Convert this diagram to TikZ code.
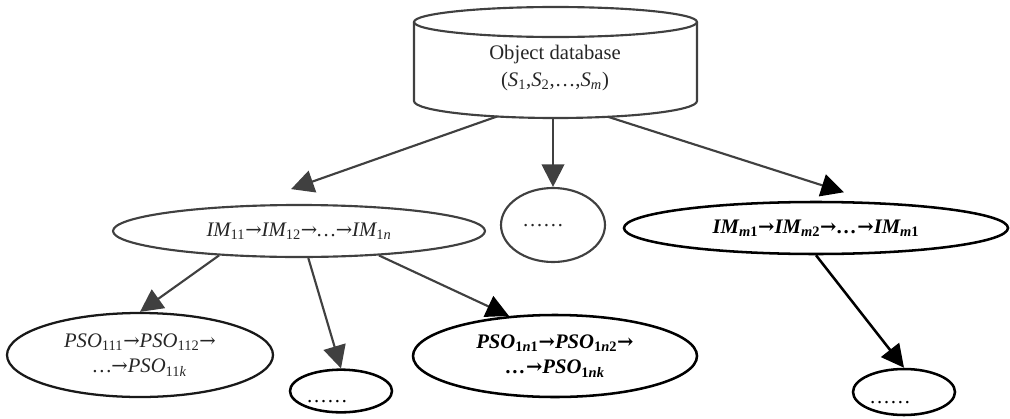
\documentclass[tikz,border=0pt]{standalone}
\usepackage{fontspec}
\setmainfont{Liberation Serif}
\newfontfamily\arrowfont[Scale=0.95]{DejaVu Serif}
\usetikzlibrary{arrows.meta,shapes.geometric}
\newcommand\mainsz{\fontsize{15.5pt}{19pt}\selectfont}
\newcommand\sbs[1]{\textsubscript{\upshape #1}}
\newcommand\arr{{\arrowfont\upshape →}}

\tikzset{
  gline/.style={draw=black!75, line width=1.6pt},
  bline/.style={draw=black, line width=1.9pt},
  arrowhd/.style={-{Triangle[length=17pt,width=17pt]}},
  blackhd/.style={-{Triangle[length=17pt,width=17pt,color=black]}},
  oval/.style={ellipse, inner sep=0pt, align=center, font=\mainsz},
  gtext/.style={text=black!85},
  dots/.style={inner sep=0pt, font=\mainsz},
}

\begin{document}
\begin{tikzpicture}[x=0.75pt,y=-0.75pt]
\useasboundingbox (0,0) rectangle (1010,418);

% object database drawn as a cylinder
\draw[gline] (555.5,22) ellipse [x radius=106.125pt, y radius=11.25pt];
\draw[gline] (414,22) -- (414,101)
  arc[start angle=180, end angle=360, x radius=106.125pt, y radius=12.75pt]
  -- (697,22);
\node[align=center, font=\fontsize{15.5pt}{20pt}\selectfont, text=black!85] (db) at (555,68)
  {Object database\\(\textit{S}\sbs{1},\textit{S}\sbs{2},…,\textit{S}\textsubscript{\textit{m}})};
\coordinate (dbL) at (497,116.5);
\coordinate (dbC) at (553,118);
\coordinate (dbR) at (608,116.8);

% second level
\node[oval, gline, gtext, minimum width=279pt, minimum height=39pt] (im1) at (299,231)
  {\itshape IM\sbs{11}\arr IM\sbs{12}\arr…\arr IM\sbs{1\textit{n}}};
\node[oval, gline, minimum width=78pt, minimum height=55.5pt] (mid) at (553,225) {};
\node[dots, text=black!85] (midd) at (543,226) {……};
\node[oval, bline, minimum width=288pt, minimum height=39pt] (imm) at (816,228)
  {\bfseries\itshape IM\textsubscript{\textit{m}\upshape 1}\arr IM\textsubscript{\textit{m}\upshape 2}\arr…\arr IM\textsubscript{\textit{m}\upshape 1}};

% third level
\node[oval, draw=black!90, line width=1.7pt, gtext, minimum width=199.5pt, minimum height=63pt] (p1) at (140,355)
  {\itshape PSO\sbs{111}\arr PSO\sbs{112}\arr\\\itshape …\arr PSO\sbs{11\textit{k}}};
\node[oval, bline, minimum width=76.5pt, minimum height=32pt] (s1) at (341,391) {};
\node[dots] (s1d) at (327,402) {……};
\node[oval, bline, minimum width=213pt, minimum height=61.5pt] (pn) at (555,356)
  {\bfseries\itshape PSO\sbs{1\textit{n}1}\arr PSO\sbs{1\textit{n}2}\arr\\\bfseries\itshape …\arr PSO\sbs{1\textit{nk}}};
\node[oval, bline, minimum width=76.5pt, minimum height=34.5pt] (s2) at (904,392) {};
\node[dots] (s2d) at (890,403) {……};

% connectors
\draw[gline, arrowhd, fill=black!75, shorten >=36pt] (dbL) -- (im1.154);
\draw[gline, arrowhd, fill=black!75] (dbC) -- (mid.north);
\draw[gline, blackhd, shorten >=24pt] (dbR) -- (imm.24);
\draw[gline, arrowhd] (im1.197) -- (p1.north);
\draw[gline, arrowhd] (im1.289) -- (s1.north);
\draw[gline, blackhd] (im1.343) -- (pn.139);
\draw[bline, arrowhd] (imm.south) -- (s2.north);
\end{tikzpicture}
\end{document}
